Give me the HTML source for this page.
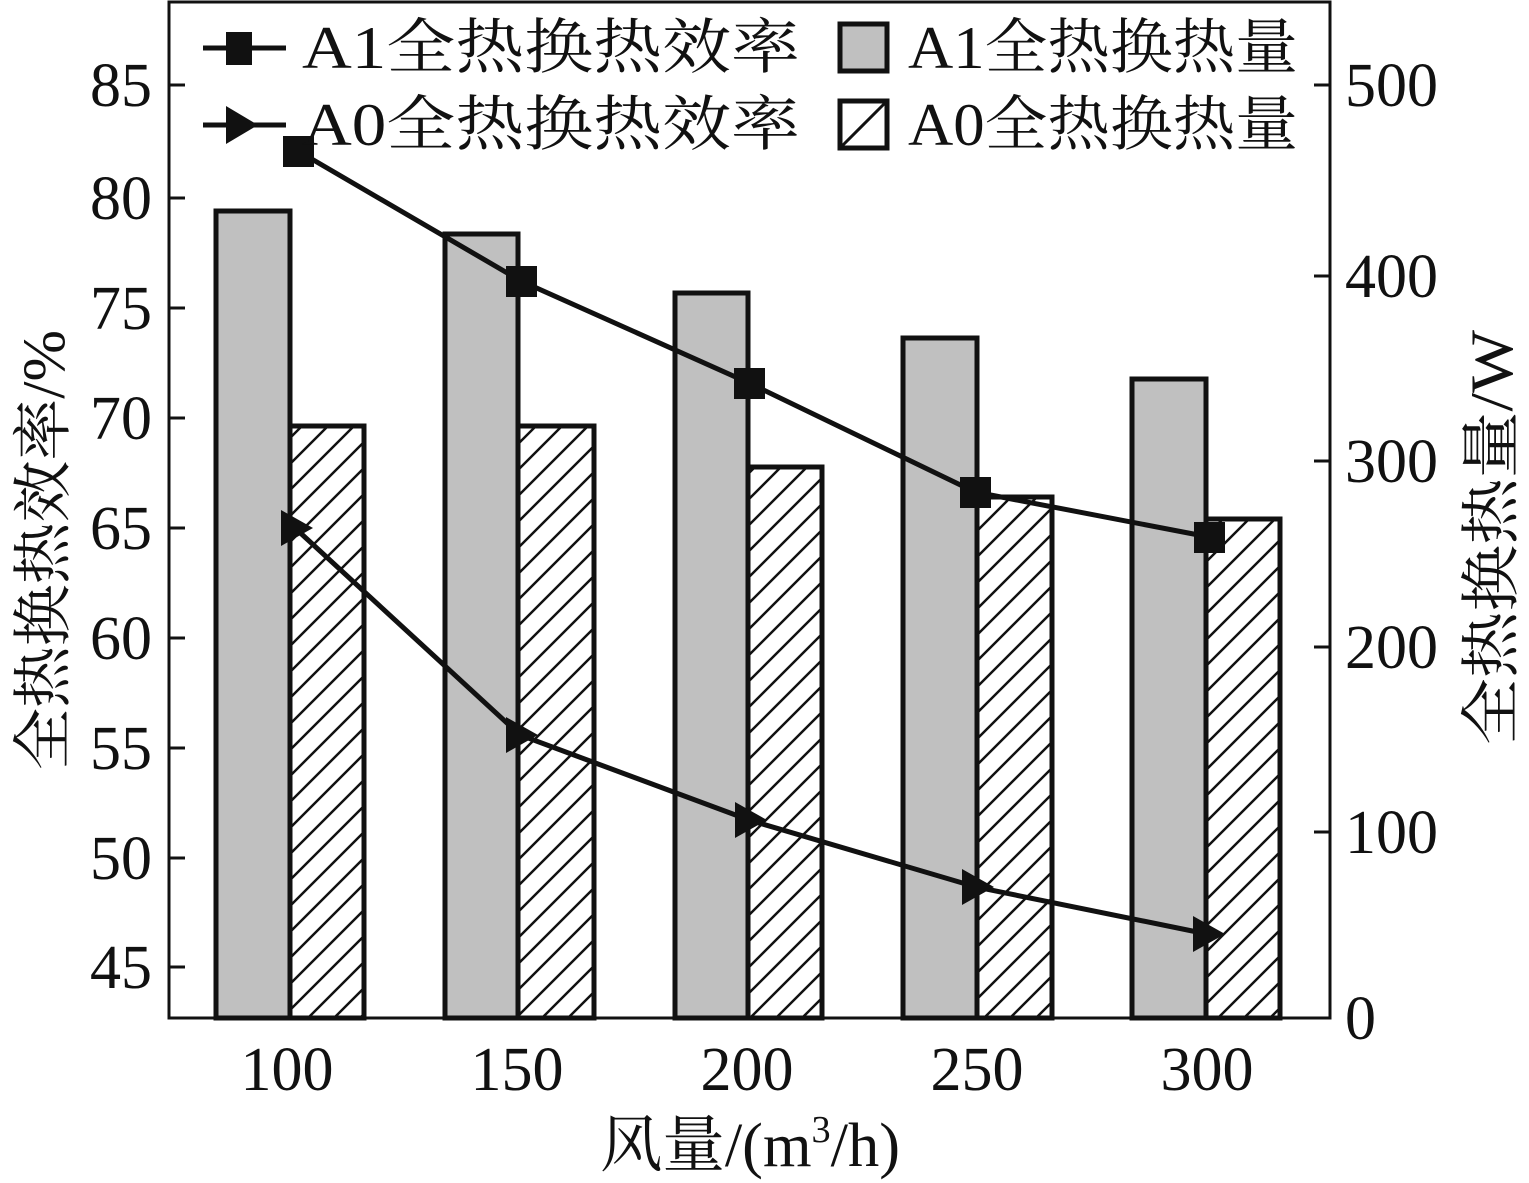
<!DOCTYPE html><html><head><style>body{margin:0;background:#fff}svg{display:block}text{font-family:"Liberation Serif","Noto Serif CJK SC",serif;fill:#111}</style></head><body>
<svg width="1529" height="1183" viewBox="0 0 1529 1183" xmlns="http://www.w3.org/2000/svg">
<defs><pattern id="h" patternUnits="userSpaceOnUse" width="26" height="26"><path d="M-6,32 L32,-6 M-6,6 L6,-6 M20,32 L32,20" stroke="#111" stroke-width="2.5"/></pattern></defs>
<g stroke="#111" stroke-width="5">
<rect x="216" y="211" width="74" height="807" fill="#c0c0c0"/>
<rect x="290" y="426" width="74" height="592" fill="url(#h)"/>
<rect x="445" y="234" width="73" height="784" fill="#c0c0c0"/>
<rect x="518" y="426" width="76" height="592" fill="url(#h)"/>
<rect x="675" y="293" width="73" height="725" fill="#c0c0c0"/>
<rect x="748" y="467" width="74" height="551" fill="url(#h)"/>
<rect x="903" y="338" width="74" height="680" fill="#c0c0c0"/>
<rect x="977" y="497" width="75" height="521" fill="url(#h)"/>
<rect x="1132" y="379" width="74" height="639" fill="#c0c0c0"/>
<rect x="1206" y="519" width="74" height="499" fill="url(#h)"/>
</g>
<rect x="169" y="2" width="1161" height="1016" fill="none" stroke="#111" stroke-width="3"/>
<g stroke="#111" stroke-width="3">
<path d="M169,85h16M169,198h16M169,308h16M169,418h16M169,528h16M169,638h16M169,748h16M169,858h16M169,967h16"/>
<path d="M1330,85h-16M1330,276h-16M1330,461h-16M1330,647h-16M1330,832h-16"/>
</g>
<g font-size="62" text-anchor="end">
<text x="152" y="106">85</text><text x="152" y="219">80</text><text x="152" y="329">75</text><text x="152" y="439">70</text><text x="152" y="549">65</text><text x="152" y="659">60</text><text x="152" y="769">55</text><text x="152" y="879">50</text><text x="152" y="988">45</text>
</g>
<g font-size="62">
<text x="1345" y="106">500</text><text x="1345" y="297">400</text><text x="1345" y="482">300</text><text x="1345" y="668">200</text><text x="1345" y="853">100</text><text x="1345" y="1039">0</text>
</g>
<g font-size="62" text-anchor="middle">
<text x="287" y="1090">100</text><text x="517" y="1090">150</text><text x="747" y="1090">200</text><text x="977" y="1090">250</text><text x="1207" y="1090">300</text>
</g>
<text x="600" y="1166" font-size="62" textLength="300" lengthAdjust="spacingAndGlyphs">风量/(m<tspan font-size="38" dy="-24">3</tspan><tspan dy="24">/h)</tspan></text>
<text transform="translate(64,770) rotate(-90)" font-size="60" textLength="440" lengthAdjust="spacingAndGlyphs">全热换热效率/%</text>
<text transform="translate(1512,745) rotate(-90)" font-size="60" textLength="415" lengthAdjust="spacingAndGlyphs">全热换热量/W</text>
<polyline points="298,151 521,281 749,383 975,492 1209,537" fill="none" stroke="#111" stroke-width="5"/>
<g fill="#111"><rect x="283" y="136" width="31" height="31"/><rect x="506" y="266" width="31" height="31"/><rect x="734" y="368" width="31" height="31"/><rect x="960" y="477" width="31" height="31"/><rect x="1194" y="522" width="31" height="31"/></g>
<polyline points="295,528 520,735 749,820 976,887 1207,934" fill="none" stroke="#111" stroke-width="5"/>
<g fill="#111">
<polygon points="281,510 313,528 281,546"/><polygon points="506,717 538,735 506,753"/><polygon points="735,802 767,820 735,838"/><polygon points="962,869 994,887 962,905"/><polygon points="1193,916 1225,934 1193,952"/>
</g>
<g stroke="#111" stroke-width="5"><path d="M203,48h83M203,125h83"/></g>
<rect x="226" y="32" width="26" height="33" fill="#111"/>
<polygon points="226,106 258,125 226,144" fill="#111"/>
<rect x="840" y="24" width="47" height="47" fill="#c0c0c0" stroke="#111" stroke-width="5"/>
<rect x="840" y="101" width="47" height="47" fill="#fff" stroke="#111" stroke-width="5"/>
<path d="M842,146 L885,103" stroke="#111" stroke-width="3"/>
<g font-size="60">
<text x="302" y="68" textLength="498" lengthAdjust="spacingAndGlyphs">A1全热换热效率</text>
<text x="302" y="145" textLength="498" lengthAdjust="spacingAndGlyphs">A0全热换热效率</text>
<text x="908" y="68" textLength="390" lengthAdjust="spacingAndGlyphs">A1全热换热量</text>
<text x="908" y="145" textLength="390" lengthAdjust="spacingAndGlyphs">A0全热换热量</text></g>
</svg></body></html>
